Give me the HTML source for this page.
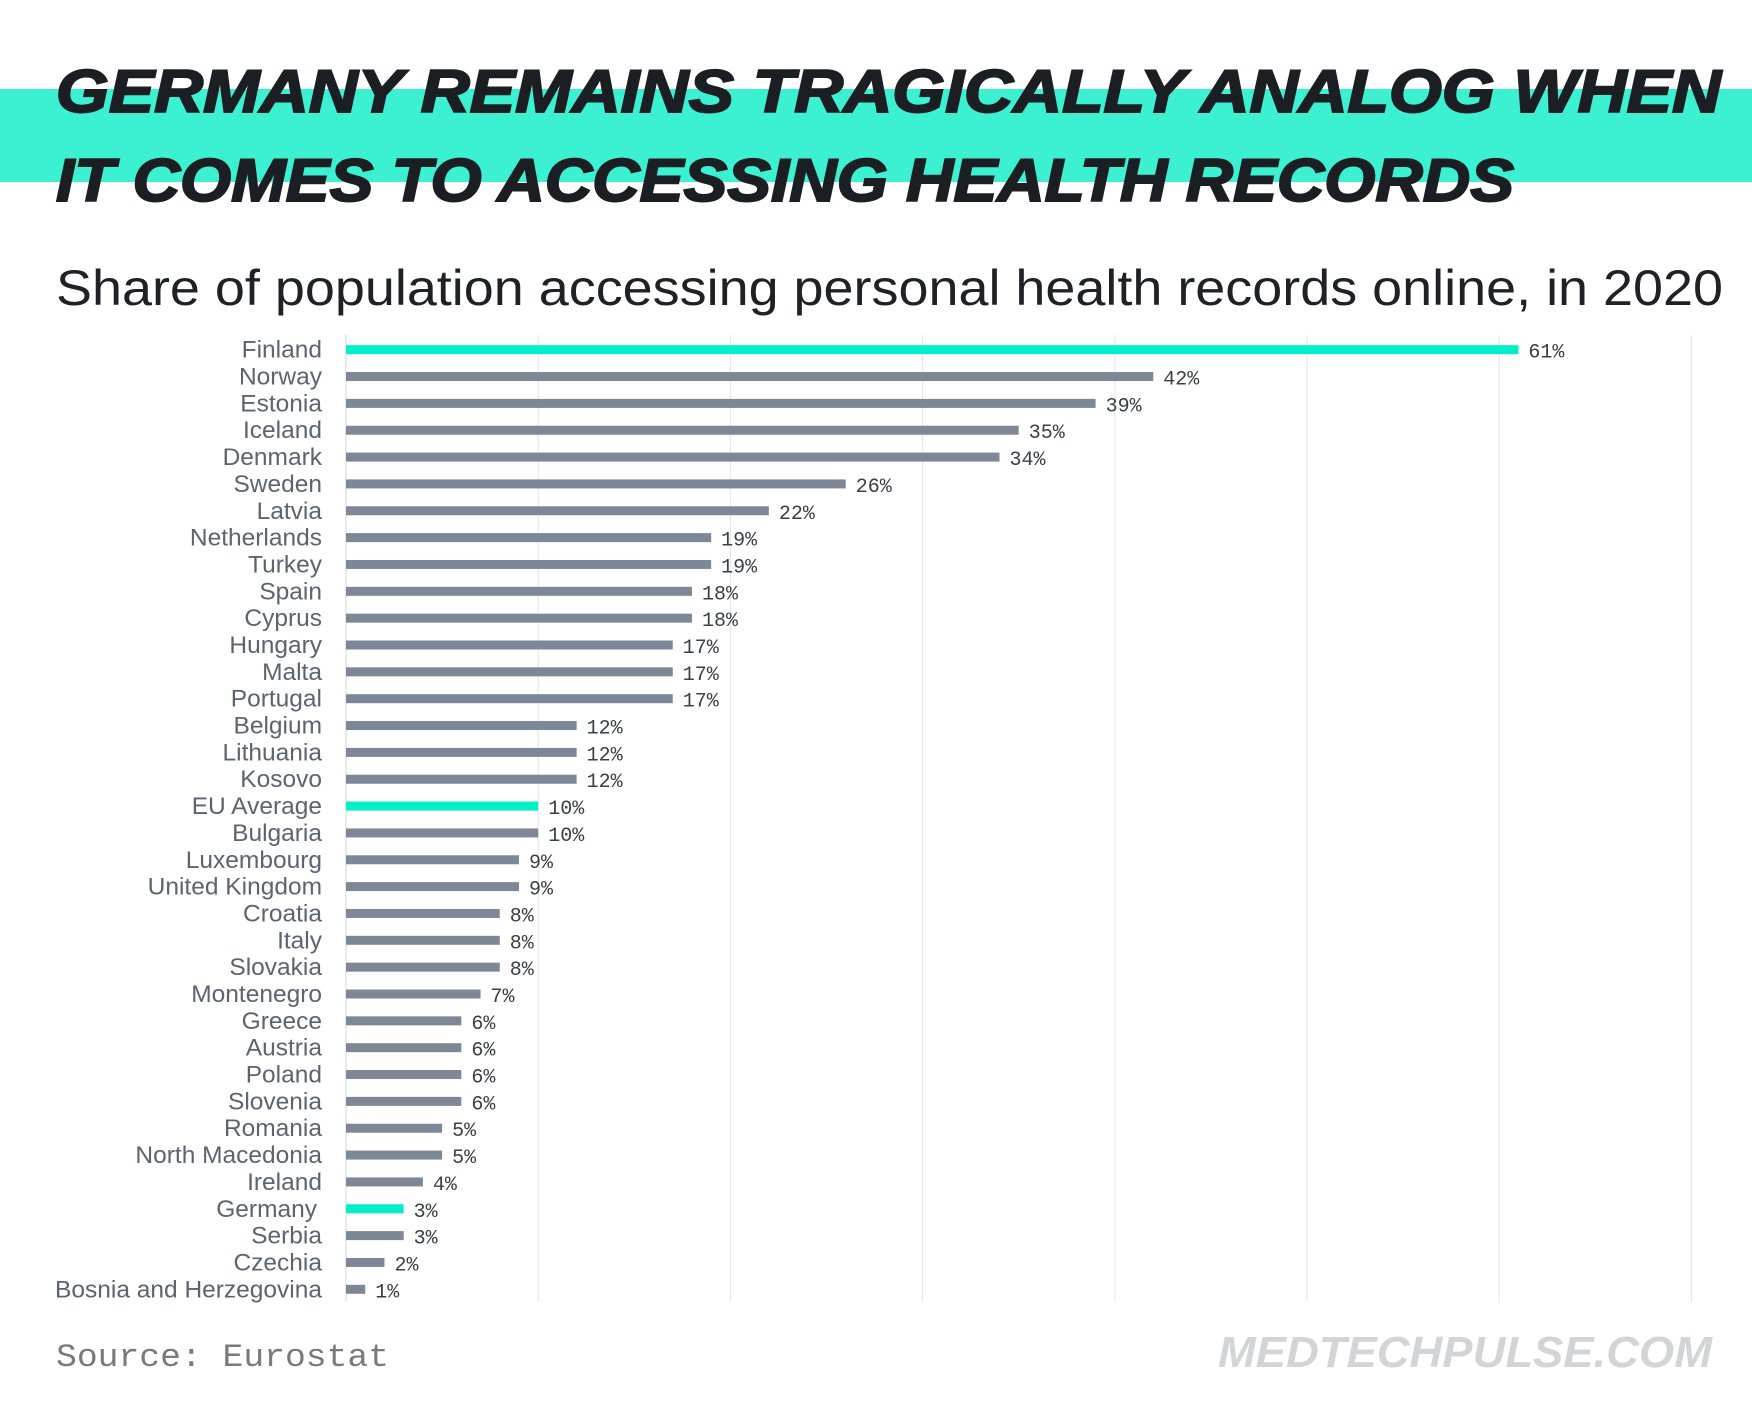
<!DOCTYPE html>
<html><head><meta charset="utf-8"><style>html,body{margin:0;padding:0;background:#fff}svg{display:block}</style></head>
<body>
<svg id="chart" width="1752" height="1402" viewBox="0 0 1752 1402" xmlns="http://www.w3.org/2000/svg" font-family="Liberation Sans, sans-serif">
<rect x="0" y="89" width="1752" height="93" fill="#3cf0d2"/>
<text x="56" y="112" font-size="60" font-weight="900" font-style="italic" fill="#1b1e22" textLength="1665" lengthAdjust="spacingAndGlyphs" stroke="#1b1e22" stroke-width="2">GERMANY REMAINS TRAGICALLY ANALOG WHEN</text>
<text x="56" y="201" font-size="60" font-weight="900" font-style="italic" fill="#1b1e22" textLength="1458" lengthAdjust="spacingAndGlyphs" stroke="#1b1e22" stroke-width="2">IT COMES TO ACCESSING HEALTH RECORDS</text>
<text x="56" y="305" font-size="50" fill="#1e2226" textLength="1667" lengthAdjust="spacingAndGlyphs">Share of population accessing personal health records online, in 2020</text>
<g id="grid"></g><g id="bars"></g>
<text x="56" y="1366" font-size="32" font-family="Liberation Mono, monospace" fill="#7a7a7a" textLength="333" lengthAdjust="spacingAndGlyphs">Source: Eurostat</text>
<text x="1218" y="1367" font-size="44" font-weight="900" font-style="italic" fill="#d2d5d8" textLength="494" lengthAdjust="spacingAndGlyphs">MEDTECHPULSE.COM</text>
</svg>
<script>
const categories=["Finland","Norway","Estonia","Iceland","Denmark","Sweden","Latvia","Netherlands","Turkey","Spain","Cyprus","Hungary","Malta","Portugal","Belgium","Lithuania","Kosovo","EU Average","Bulgaria","Luxembourg","United Kingdom","Croatia","Italy","Slovakia","Montenegro","Greece","Austria","Poland","Slovenia","Romania","North Macedonia","Ireland","Germany","Serbia","Czechia","Bosnia and Herzegovina"];
const values=[61,42,39,35,34,26,22,19,19,18,18,17,17,17,12,12,12,10,10,9,9,8,8,8,7,6,6,6,6,5,5,4,3,3,2,1];
const highlighted=["Finland","EU Average","Germany"];
const gridTicks=[0,10,20,30,40,50,60,70];
const NS="http://www.w3.org/2000/svg";
const x0=346,pxPer=19.22,y0=349.7,rowH=(1289.3-349.7)/(categories.length-1);
const xs=v=>x0+v*pxPer, ys=i=>y0+i*rowH;
const grid=document.getElementById('grid'),bars=document.getElementById('bars');
gridTicks.forEach(t=>{const l=document.createElementNS(NS,'line');


l.setAttribute('x1',xs(t));l.setAttribute('x2',xs(t));l.setAttribute('y1',335);l.setAttribute('y2',1302);
l.setAttribute('stroke',t===0?'#dcdcdc':'#e8e8e8');l.setAttribute('stroke-width',1.2);grid.appendChild(l);});
categories.forEach((c,i)=>{const y=ys(i),v=values[i],hl=highlighted.includes(c);
const t=document.createElementNS(NS,'text');


t.setAttribute('x',c==='Germany'?317:322);t.setAttribute('y',y+8);t.setAttribute('text-anchor','end');t.setAttribute('font-size','24.5');t.setAttribute('fill','#5b6470');t.textContent=c;bars.appendChild(t);
const r=document.createElementNS(NS,'rect');


r.setAttribute('x',x0);r.setAttribute('y',y-4.5);r.setAttribute('width',xs(v)-x0);r.setAttribute('height',9);r.setAttribute('fill',hl?'#00eec8':'#7d8796');bars.appendChild(r);
const vl=document.createElementNS(NS,'text');


vl.setAttribute('x',xs(v)+10);vl.setAttribute('y',y+8);vl.setAttribute('font-size','20');vl.setAttribute('font-family','Liberation Mono, monospace');vl.setAttribute('fill','#3a4048');vl.textContent=v+'%';bars.appendChild(vl);});
</script>
</body></html>
